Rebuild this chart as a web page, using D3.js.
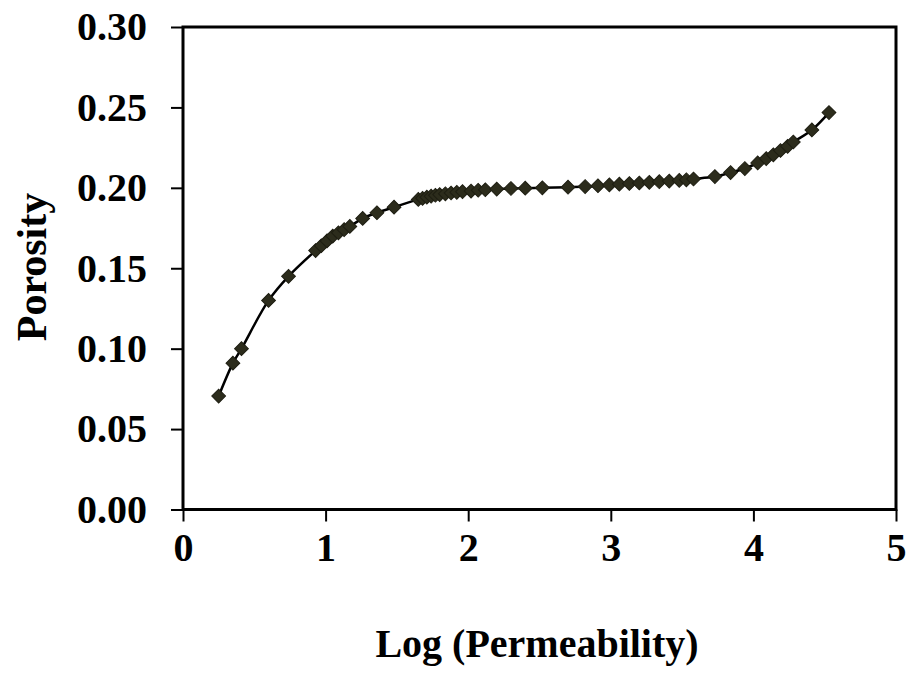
<!DOCTYPE html>
<html>
<head>
<meta charset="utf-8">
<script src="https://cdn.jsdelivr.net/npm/d3@7"></script>
<style>
  html, body { margin: 0; padding: 0; background: #ffffff; }
  svg { display: block; }
</style>
</head>
<body>
<svg id="chart" width="911" height="673"></svg>
<script>
// ---- data ----
const logPerm = [0.25, 0.35, 0.41, 0.60, 0.74, 0.93, 0.97, 1.01, 1.05, 1.09, 1.13, 1.17,
  1.26, 1.36, 1.48, 1.65, 1.68, 1.71, 1.74, 1.77, 1.80, 1.84, 1.88, 1.92, 1.96, 2.02, 2.07,
  2.12, 2.20, 2.30, 2.40, 2.52, 2.70, 2.82, 2.91, 2.99, 3.06, 3.13, 3.20, 3.27, 3.34, 3.41,
  3.48, 3.53, 3.58, 3.73, 3.84, 3.94, 4.03, 4.09, 4.14, 4.19, 4.24, 4.28, 4.41, 4.53];
const porosity = [0.0705, 0.091, 0.100, 0.130, 0.145, 0.161, 0.164, 0.167, 0.170, 0.172, 0.174, 0.176,
  0.181, 0.1845, 0.188, 0.1928, 0.1935, 0.1942, 0.1948, 0.1954, 0.1958, 0.1963, 0.1968, 0.1972, 0.1976, 0.198, 0.1985,
  0.1988, 0.1992, 0.1996, 0.1998, 0.2000, 0.2004, 0.2008, 0.2013, 0.2018, 0.2023, 0.2027, 0.2030, 0.2034, 0.2038, 0.2042,
  0.2046, 0.2050, 0.2055, 0.207, 0.2095, 0.212, 0.2155, 0.2182, 0.2205, 0.2232, 0.2258, 0.2285, 0.236, 0.2468];
const xTicks = [0, 1, 2, 3, 4, 5];
const yTicks = [0.00, 0.05, 0.10, 0.15, 0.20, 0.25, 0.30];
const xTitle = "Log (Permeability)";
const yTitle = "Porosity";

(function () {
  const points = logPerm.map((d, i) => ({ x: d, y: porosity[i] }));

  // ---- layout ----
  const pLeft = 183, pTop = 27, pRight = 896, pBottom = 509.5;
  const font = "'Liberation Serif', 'Times New Roman', serif";

  const svg = d3.select("#chart");
  const x = d3.scaleLinear().domain([0, 5]).range([pLeft, pRight]);
  const y = d3.scaleLinear().domain([0, 0.30]).range([pBottom, pTop]);

  const yAxis = svg.append("g")
    .attr("transform", `translate(${pLeft},0)`)
    .call(d3.axisLeft(y).tickValues(yTicks).tickFormat(d3.format(".2f")).tickSize(12).tickPadding(24));
  const xAxis = svg.append("g")
    .attr("transform", `translate(0,${pBottom})`)
    .call(d3.axisBottom(x).tickValues(xTicks).tickFormat(d3.format("d")).tickSize(12).tickPadding(11));

  [yAxis, xAxis].forEach(g => {
    g.select(".domain").remove();
    g.selectAll(".tick line").attr("stroke", "#000").attr("stroke-width", 2);
    g.selectAll(".tick text")
      .attr("fill", "#000")
      .style("font-family", font)
      .style("font-weight", "bold")
      .style("font-size", "40px");
  });

  svg.append("rect")
    .attr("x", pLeft).attr("y", pTop)
    .attr("width", pRight - pLeft).attr("height", pBottom - pTop)
    .attr("fill", "none").attr("stroke", "#000").attr("stroke-width", 3);

  const line = d3.line().x(d => x(d.x)).y(d => y(d.y)).curve(d3.curveCatmullRom.alpha(0.5));
  svg.append("path")
    .datum(points)
    .attr("d", line)
    .attr("fill", "none")
    .attr("stroke", "#000")
    .attr("stroke-width", 2.5);

  const sym = d3.symbol().type(d3.symbolSquare).size(95);
  svg.append("g").selectAll("path")
    .data(points)
    .join("path")
    .attr("d", sym)
    .attr("transform", d => `translate(${x(d.x)},${y(d.y)}) rotate(45)`)
    .attr("fill", "#2c2c1c")
    .attr("stroke", "#1e1e12")
    .attr("stroke-width", 1);

  svg.append("text")
    .attr("x", 537).attr("y", 657)
    .attr("text-anchor", "middle")
    .style("font-family", font).style("font-weight", "bold").style("font-size", "40px")
    .text(xTitle);

  svg.append("text")
    .attr("transform", "translate(46,267) rotate(-90)")
    .attr("text-anchor", "middle")
    .style("font-family", font).style("font-weight", "bold").style("font-size", "42px")
    .text(yTitle);
})();
</script>
</body>
</html>
